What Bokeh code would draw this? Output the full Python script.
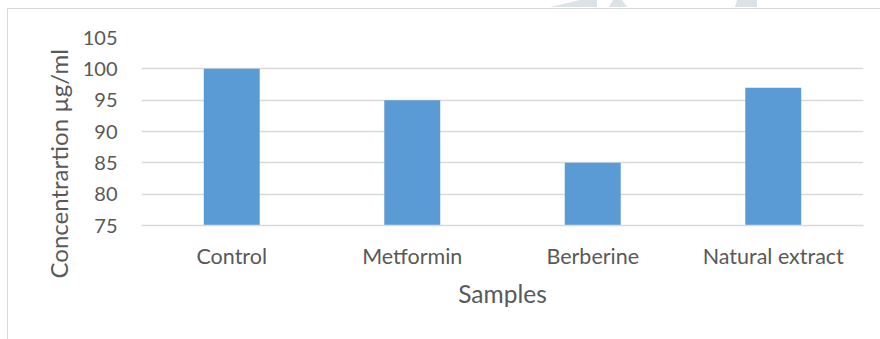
from bokeh.plotting import figure
from bokeh.models import FactorRange, Range1d, FixedTicker, ColumnDataSource, Title
from bokeh.embed import file_html
from bokeh.resources import INLINE

# Sample groups and measured concentrations (µg/ml)
samples = ["Control", "Metformin", "Berberine", "Natural extract"]
concentration = [100, 95, 85, 97]
y_ticks = [75, 80, 85, 90, 95, 100, 105]

FONT = "Lato"
TEXT = "#595959"
GRID = "#D9D9D9"
BAR = "#5B9BD5"

# Page backdrop: thin chart border on the top/left edges plus faint shapes above it
backdrop_svg = (
    "<svg xmlns='http://www.w3.org/2000/svg' width='880' height='339'>"
    "<rect x='7' y='8' width='873' height='1' fill='%23D9D9D9'/>"
    "<rect x='7' y='8' width='1' height='331' fill='%23D9D9D9'/>"
    "<polygon points='580,0 597,0 597,7 550,7' fill='%23DCE3E6'/>"
    "<polygon points='613,0 622,0 627,7 609,7' fill='%23DCE3E6'/>"
    "<polygon points='737,0 757,0 757,7 735,7' fill='%23DCE3E6'/>"
    "</svg>"
)

p = figure(
    x_range=FactorRange(factors=samples, range_padding=0),
    y_range=Range1d(75, 105),
    width=880, height=339,
    output_backend="svg", toolbar_location=None,
    min_border_left=141, min_border_right=17,
    min_border_top=37, min_border_bottom=114,
)
p.outline_line_color = None
p.background_fill_color = "white"
p.border_fill_color = None
p.styles = {
    "background-color": "white",
    "background-image": 'url("data:image/svg+xml;utf8,' + backdrop_svg + '")',
    "background-repeat": "no-repeat",
}

src = ColumnDataSource(dict(x=samples, y=concentration))
p.vbar(x="x", top="y", bottom=75, width=0.31, source=src,
       fill_color=BAR, line_color=None)

# y axis
p.yaxis.ticker = FixedTicker(ticks=y_ticks)
p.yaxis.axis_line_color = None
p.yaxis.major_tick_line_color = None
p.yaxis.minor_tick_line_color = None
p.yaxis.major_tick_out = 0
p.yaxis.major_label_standoff = 24
p.yaxis.major_label_text_font = FONT
p.yaxis.major_label_text_font_size = "20px"
p.yaxis.major_label_text_color = TEXT

# y-axis title, starting a little below the bottom of the plot area
p.add_layout(Title(text="Concentrartion µg/ml", align="left", offset=-53,
                   text_font=FONT, text_font_size="24px",
                   text_font_style="normal", text_color=TEXT,
                   standoff=14), "left")

# x axis
p.xaxis.axis_line_color = GRID
p.xaxis.axis_line_width = 1.5
p.xaxis.major_tick_line_color = None
p.xaxis.minor_tick_line_color = None
p.xaxis.major_tick_out = 0
p.xaxis.major_label_standoff = 17
p.xaxis.major_label_text_font = FONT
p.xaxis.major_label_text_font_size = "21.5px"
p.xaxis.major_label_text_color = TEXT
p.xaxis.axis_label = "Samples"
p.xaxis.axis_label_text_font = FONT
p.xaxis.axis_label_text_font_size = "24.5px"
p.xaxis.axis_label_text_font_style = "normal"
p.xaxis.axis_label_text_color = TEXT
p.xaxis.axis_label_standoff = 7

p.xgrid.grid_line_color = None
p.ygrid.grid_line_color = GRID
p.ygrid.grid_line_width = 1.5

open("out.html", "w").write(file_html(p, INLINE))
